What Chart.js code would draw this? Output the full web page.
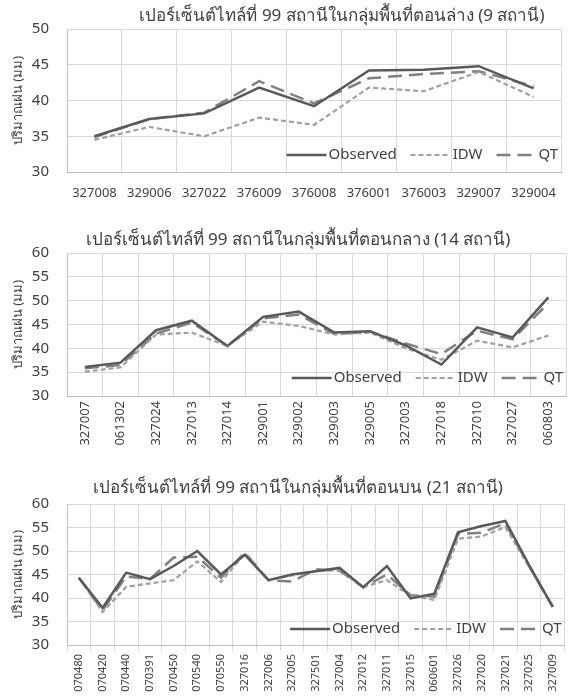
<!DOCTYPE html>
<html>
<head>
<meta charset="utf-8">
<script src="https://cdn.jsdelivr.net/npm/chart.js@4.4.1/dist/chart.umd.min.js"></script>
<style>
  html, body { margin: 0; padding: 0; background: #fff; }
  body { width: 569px; height: 697px; position: relative; overflow: hidden; }
  .box { position: absolute; left: 0; width: 569px; }
</style>
</head>
<body>
<div class="box" style="top:0;height:210px"><canvas id="chartLower"></canvas></div>
<div class="box" style="top:215px;height:247px"><canvas id="chartMiddle"></canvas></div>
<div class="box" style="top:462px;height:235px"><canvas id="chartUpper"></canvas></div>
<script>
// Lower zone (9 stations)
const stationsLower = ['327008', '329006', '327022', '376009', '376008', '376001', '376003', '329007', '329004'];
const obsLower = [35.0, 37.4, 38.2, 41.8, 39.2, 44.2, 44.3, 44.8, 41.7];
const idwLower = [34.5, 36.3, 35.0, 37.6, 36.6, 41.8, 41.3, 44.0, 40.5];
const qtLower  = [34.9, 37.4, 38.3, 42.7, 39.6, 43.1, 43.7, 44.1, 42.0];

// Middle zone (14 stations)
const stationsMiddle = ['327007', '061302', '327024', '327013', '327014', '329001', '329002',
  '329003', '329005', '327003', '327018', '327010', '327027', '060803'];
const obsMiddle = [36.1, 37.0, 43.8, 45.8, 40.5, 46.6, 47.7, 43.3, 43.6, 40.6, 36.6, 44.4, 42.3, 50.7];
const idwMiddle = [35.1, 36.0, 42.9, 43.3, 40.5, 45.6, 44.7, 42.9, 43.3, 40.0, 37.6, 41.6, 40.2, 42.7];
const qtMiddle  = [35.8, 36.5, 43.1, 45.4, 40.5, 46.3, 47.1, 43.0, 43.5, 41.0, 38.8, 43.7, 41.9, 49.5];

// Upper zone (21 stations)
const stationsUpper = ['070480', '070420', '070440', '070391', '070450', '070540', '070550', '327016',
  '327006', '327005', '327501', '327004', '327012', '327011', '327015', '060601', '327026', '327020',
  '327021', '327025', '327009'];
const obsUpper = [44.3, 37.9, 45.4, 44.0, 46.8, 50.0, 45.0, 49.2, 43.8, 45.0, 45.7, 46.4, 42.3, 46.8,
  39.9, 40.9, 54.0, 55.3, 56.4, 47.0, 38.1];
const idwUpper = [44.3, 37.0, 42.4, 43.1, 43.8, 47.8, 43.4, 49.5, 43.8, 44.8, 45.8, 45.9, 42.3, 43.8,
  40.5, 39.6, 52.6, 53.1, 55.1, 46.6, 38.1];
const qtUpper  = [44.3, 37.4, 44.6, 44.0, 48.6, 48.8, 44.3, 49.7, 43.8, 43.5, 46.1, 45.8, 42.3, 45.0,
  40.6, 40.3, 53.6, 53.9, 55.9, 46.8, 38.1];

const seriesNames = ['Observed', 'IDW', 'QT'];
const yTitle = 'ปริมาณฝน (มม)';

const FONT = "'Noto Sans', 'DejaVu Sans', sans-serif";
const TEXT = '#404040';

// Title drawn at a fixed spot above the plot
const titlePlugin = {
  id: 'zoneTitle',
  afterDraw(chart, args, opts) {
    const ctx = chart.ctx;
    ctx.save();
    ctx.font = '17px ' + FONT;
    ctx.fillStyle = TEXT;
    ctx.textAlign = 'center';
    ctx.textBaseline = 'middle';
    ctx.fillText(opts.text, opts.x, opts.y);
    ctx.restore();
  }
};

// Excel style legend sitting in the lower right of the plot
const legendPlugin = {
  id: 'insideLegend',
  afterDatasetsDraw(chart, args, opts) {
    const ctx = chart.ctx;
    const area = chart.chartArea;
    const items = chart.data.datasets;
    const sample = 40, gap = 2, itemGap = 14;
    ctx.save();
    ctx.font = '15px ' + FONT;
    ctx.textBaseline = 'middle';
    let total = 0;
    items.forEach((ds, i) => {
      total += sample + gap + ctx.measureText(ds.label).width + (i < items.length - 1 ? itemGap : 0);
    });
    let x = area.right - 3 - total;
    const y = area.bottom - opts.offset;
    items.forEach(ds => {
      ctx.strokeStyle = ds.borderColor;
      ctx.lineWidth = ds.borderWidth;
      ctx.setLineDash(ds.borderDash || []);
      ctx.beginPath();
      ctx.moveTo(x, y);
      ctx.lineTo(x + sample, y);
      ctx.stroke();
      ctx.setLineDash([]);
      x += sample + gap;
      ctx.fillStyle = TEXT;
      ctx.fillText(ds.label, x, y);
      x += ctx.measureText(ds.label).width + itemGap;
    });
    ctx.restore();
  }
};

function makeDatasets(obs, idw, qt) {
  return [
    { label: seriesNames[0], data: obs, borderColor: '#595959', borderWidth: 2.5, borderDash: [] },
    { label: seriesNames[1], data: idw, borderColor: '#a0a0a0', borderWidth: 2.2, borderDash: [5, 3] },
    { label: seriesNames[2], data: qt, borderColor: '#808080', borderWidth: 2.5, borderDash: [14, 7] }
  ].map(d => Object.assign(d, { pointRadius: 0, tension: 0, fill: false }));
}

function makeChart(id, cfg) {
  return new Chart(document.getElementById(id), {
    type: 'line',
    data: { labels: cfg.labels, datasets: makeDatasets(cfg.obs, cfg.idw, cfg.qt) },
    plugins: [titlePlugin, legendPlugin],
    options: {
      responsive: true,
      maintainAspectRatio: false,
      animation: false,
      layout: { padding: { top: cfg.top, right: 1, left: 0, bottom: 0 } },
      plugins: {
        legend: { display: false },
        tooltip: { enabled: false },
        zoneTitle: { text: cfg.title, x: cfg.titleX, y: cfg.titleY },
        insideLegend: { offset: cfg.legendOffset }
      },
      scales: {
        x: {
          offset: true,
          grid: { offset: true, color: '#d9d9d9', lineWidth: 1, drawTicks: cfg.tickLen > 0, tickLength: cfg.tickLen },
          border: { color: '#bfbfbf' },
          ticks: {
            color: TEXT,
            font: { family: FONT, size: cfg.xFont },
            padding: cfg.xPad,
            autoSkip: false,
            minRotation: cfg.rotate,
            maxRotation: cfg.rotate
          },
          afterFit(scale) { scale.height = cfg.xHeight; }
        },
        y: {
          min: cfg.yMin,
          max: cfg.yMax,
          grid: { color: '#d9d9d9', lineWidth: 1, drawTicks: false },
          border: { color: '#bfbfbf' },
          ticks: { stepSize: 5, color: TEXT, padding: 18, font: { family: FONT, size: 15 } },
          title: { display: true, text: yTitle, color: TEXT, font: { family: FONT, size: 13 }, padding: { top: 10, bottom: 0 } },
          afterFit(scale) { scale.width = 67; }
        }
      }
    }
  });
}

makeChart('chartLower', {
  labels: stationsLower, obs: obsLower, idw: idwLower, qt: qtLower,
  title: 'เปอร์เซ็นต์ไทล์ที่ 99 สถานีในกลุ่มพื้นที่ตอนล่าง (9 สถานี)',
  titleX: 342, titleY: 16, top: 29, xHeight: 38, xFont: 13, xPad: 13, rotate: 0, tickLen: 0,
  yMin: 30, yMax: 50, legendOffset: 17
});

makeChart('chartMiddle', {
  labels: stationsMiddle, obs: obsMiddle, idw: idwMiddle, qt: qtMiddle,
  title: 'เปอร์เซ็นต์ไทล์ที่ 99 สถานีในกลุ่มพื้นที่ตอนกลาง (14 สถานี)',
  titleX: 298, titleY: 25, top: 38, xHeight: 66, xFont: 13, xPad: 5, rotate: 90, tickLen: 0,
  yMin: 30, yMax: 60, legendOffset: 18
});

makeChart('chartUpper', {
  labels: stationsUpper, obs: obsUpper, idw: idwUpper, qt: qtUpper,
  title: 'เปอร์เซ็นต์ไทล์ที่ 99 สถานีในกลุ่มพื้นที่ตอนบน (21 สถานี)',
  titleX: 298, titleY: 26, top: 42, xHeight: 52, xFont: 11, xPad: 3, rotate: 90, tickLen: 6,
  yMin: 30, yMax: 60, legendOffset: 16
});
</script>
</body>
</html>
